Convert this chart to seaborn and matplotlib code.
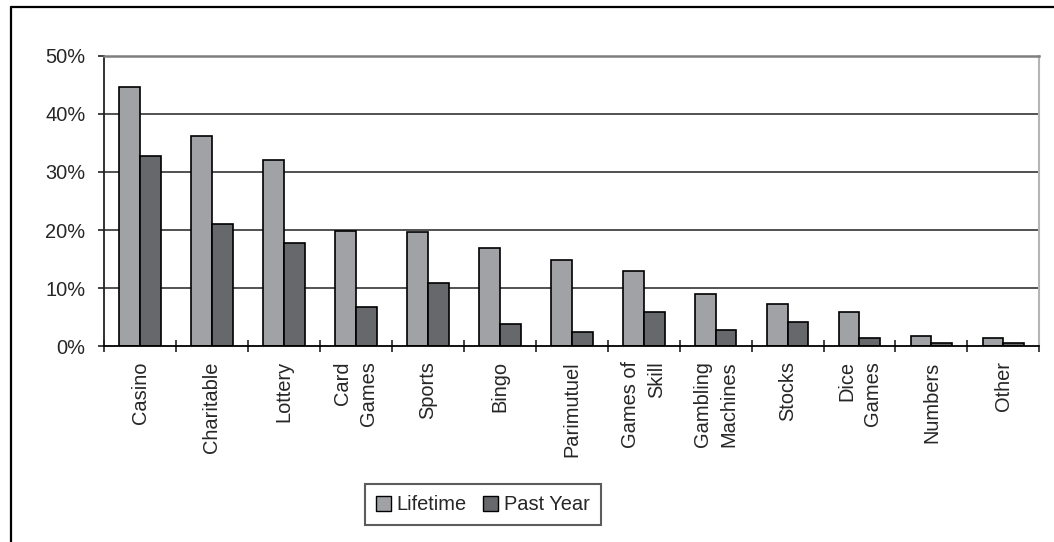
import matplotlib
matplotlib.use("Agg")
import matplotlib.pyplot as plt
from matplotlib.lines import Line2D
from matplotlib.ticker import FuncFormatter
import seaborn as sns
import pandas as pd

categories = ["Casino", "Charitable", "Lottery", "Card\nGames", "Sports", "Bingo",
              "Parimutuel", "Games of\nSkill", "Gambling\nMachines", "Stocks",
              "Dice\nGames", "Numbers", "Other"]
lifetime = [44.7, 36.2, 32.1, 19.9, 19.7, 16.9, 14.9, 13.0, 8.9, 7.3, 5.9, 1.8, 1.3]
past_year = [32.8, 21.0, 17.8, 6.8, 10.9, 3.8, 2.5, 5.9, 2.7, 4.1, 1.3, 0.6, 0.6]
series_names = ["Lifetime", "Past Year"]
y_ticks = [0, 10, 20, 30, 40, 50]

df = pd.DataFrame({
    "category": categories * 2,
    "value": lifetime + past_year,
    "series": [series_names[0]] * len(categories) + [series_names[1]] * len(categories),
})

sns.set_style("white")
plt.rcParams["font.family"] = ["Liberation Sans", "DejaVu Sans"]

fig = plt.figure(figsize=(10.54, 5.42), dpi=100)
ax = fig.add_axes([0.0987, 0.3616, 0.9861 - 0.0987, 0.8967 - 0.3616])

sns.barplot(data=df, x="category", y="value", hue="series",
            palette=["#a1a2a6", "#67686c"], width=0.58,
            edgecolor="black", linewidth=1.2, ax=ax, saturation=1)

ax.set_ylim(0, 50)
ax.set_xlim(-0.5, len(categories) - 0.5)
ax.set_yticks(y_ticks)
ax.yaxis.set_major_formatter(FuncFormatter(lambda v, p: f"{int(v)}%"))
ax.set_xlabel("")
ax.set_ylabel("")

# gridlines
for v in y_ticks[1:-1]:
    ax.axhline(v, color="#222222", lw=1.1, zorder=0.5)

# spines
ax.spines["left"].set_color("#222222")
ax.spines["left"].set_linewidth(1.3)
ax.spines["bottom"].set_color("black")
ax.spines["bottom"].set_linewidth(1.3)
ax.spines["top"].set_color("#7f7f7f")
ax.spines["top"].set_linewidth(1.8)
ax.spines["right"].set_color("#b5b5b5")
ax.spines["right"].set_linewidth(1.5)
for s in ax.spines.values():
    s.set_visible(True)
    s.set_zorder(3)

# ticks
ax.tick_params(axis="y", direction="out", length=4, width=1.2, color="#222222",
               pad=9.5, labelsize=14.4, left=True)
ax.set_xticks(range(len(categories)))
ax.set_xticklabels(categories, rotation=90, ha="center", va="top",
                   multialignment="right", linespacing=1.45)
ax.tick_params(axis="x", which="major", length=0, pad=11, labelsize=14.4)
bounds = [i - 0.5 for i in range(len(categories) + 1)]
ax.set_xticks(bounds, minor=True)
ax.tick_params(axis="x", which="minor", direction="inout", length=9, width=1.2,
               color="#222222", bottom=True)

# legend
leg = ax.legend(loc="center", bbox_to_anchor=(0.4578, 0.0683),
                bbox_transform=fig.transFigure, ncol=2, frameon=True,
                fancybox=False, fontsize=14.4, handlelength=0.75,
                handleheight=0.75, handletextpad=0.3, columnspacing=0.8,
                borderpad=0.55)
leg.get_frame().set_edgecolor("#333333")
leg.get_frame().set_linewidth(1.5)
for h in leg.legend_handles:
    h.set_edgecolor("black")
    h.set_linewidth(1.0)

# outer figure border (left and top only)
x0 = 11 / 1054
y0 = 1 - 6.5 / 542
fig.add_artist(Line2D([x0, x0], [0, y0], transform=fig.transFigure, color="black", lw=1.6))
fig.add_artist(Line2D([x0, 1], [y0, y0], transform=fig.transFigure, color="black", lw=1.6))

fig.savefig("out.png", dpi=100)
